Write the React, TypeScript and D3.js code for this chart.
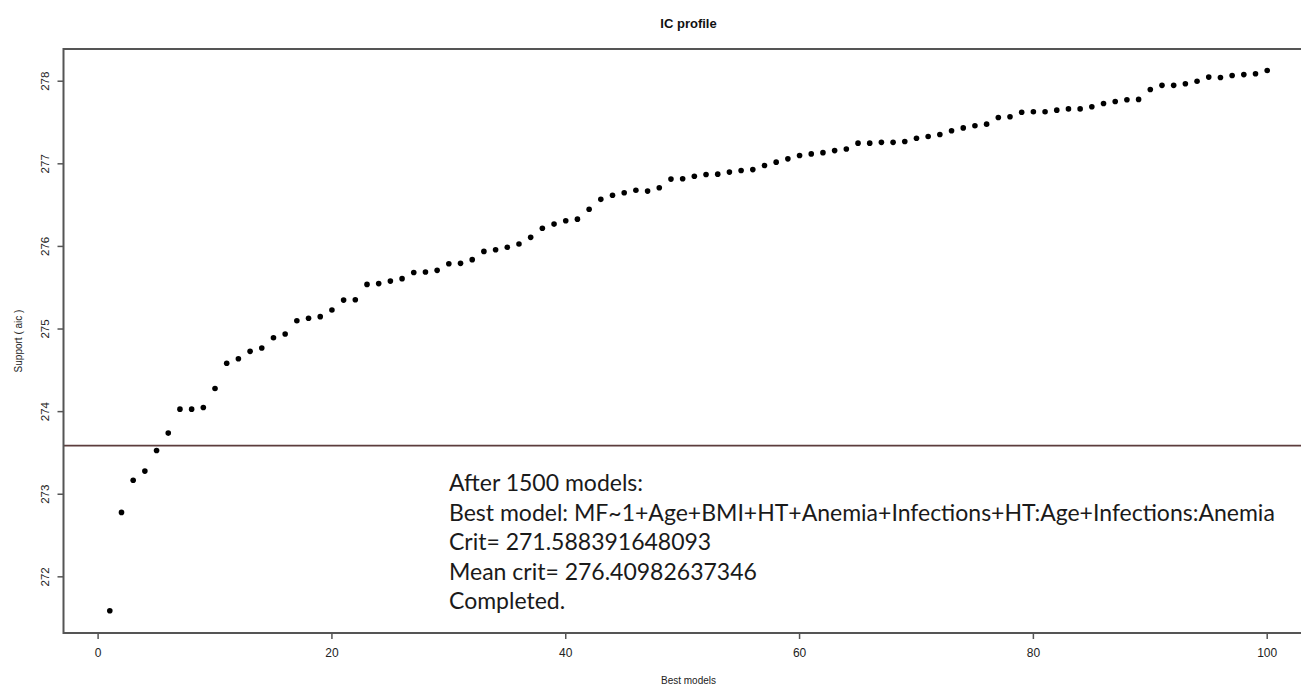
import React, { useLayoutEffect, useRef, useState } from "react";
import * as d3 from "d3";

const title = "IC profile";
const xLabel = "Best models";
const yLabel = "Support ( aic )";
const xTicks = [0, 20, 40, 60, 80, 100];
const yTicks = [272, 273, 274, 275, 276, 277, 278];
const bestCrit = 271.588391648093;
const critLine = bestCrit + 2;

const support = [
  271.59, 272.78, 273.17, 273.28, 273.53, 273.74, 274.03, 274.03, 274.05, 274.28,
  274.585, 274.64, 274.73, 274.77, 274.895, 274.94, 275.10, 275.13, 275.15, 275.23,
  275.35, 275.355, 275.54, 275.55, 275.58, 275.61, 275.685, 275.69, 275.71, 275.79,
  275.795, 275.84, 275.94, 275.96, 275.99, 276.03, 276.11, 276.22, 276.27, 276.31,
  276.33, 276.45, 276.57, 276.62, 276.65, 276.68, 276.67, 276.71, 276.815, 276.82,
  276.85, 276.87, 276.875, 276.90, 276.92, 276.93, 276.98, 277.02, 277.06, 277.10,
  277.12, 277.135, 277.16, 277.18, 277.25, 277.25, 277.26, 277.26, 277.27, 277.31,
  277.33, 277.355, 277.40, 277.435, 277.46, 277.48, 277.56, 277.57, 277.625, 277.63,
  277.63, 277.65, 277.665, 277.665, 277.69, 277.73, 277.755, 277.775, 277.78, 277.90,
  277.95, 277.95, 277.97, 278.00, 278.05, 278.045, 278.07, 278.08, 278.09, 278.13,
];

const noteLines = [
  "After 1500 models:",
  "Best model: MF~1+Age+BMI+HT+Anemia+Infections+HT:Age+Infections:Anemia",
  "Crit= 271.588391648093",
  "Mean crit= 276.40982637346",
  "Completed.",
];
const noteTargetWidth = 826;

const W = 1301;
const H = 685;

export default function App() {
  const x = d3.scaleLinear().domain([-2.96, 103.96]).range([63.5, 1313.5]);
  const y = d3.scaleLinear().domain([271.32, 278.39]).range([633, 49]);
  const [x0, x1] = x.range();
  const [yb, yt] = y.range();
  const axisFont = "'Liberation Sans', Arial, sans-serif";
  const narrowFont = "'Liberation Sans Narrow', 'Liberation Sans', Arial, sans-serif";

  const probeRef = useRef<SVGTextElement | null>(null);
  const [noteSize, setNoteSize] = useState(21);
  useLayoutEffect(() => {
    const el = probeRef.current;
    if (!el) return;
    const len = el.getComputedTextLength();
    if (len > 0) setNoteSize((20 * noteTargetWidth) / len);
  }, []);

  return (
    <svg
      width={W}
      height={H}
      style={{ position: "absolute", left: 0, top: 0, background: "#fff" }}
    >
      <text
        ref={probeRef}
        x={0}
        y={-100}
        fontFamily="Lato, 'Open Sans', sans-serif"
        fontSize={20}
        visibility="hidden"
      >
        {noteLines[1]}
      </text>

      <text
        x={(x0 + x1) / 2}
        y={27.5}
        textAnchor="middle"
        fontFamily={axisFont}
        fontWeight="bold"
        fontSize={13}
        fill="#111"
      >
        {title}
      </text>

      {/* crit + 2 reference line */}
      <line x1={x0} x2={x1} y1={y(critLine)} y2={y(critLine)} stroke="#5c3d3d" strokeWidth={1.6} />

      {/* frame */}
      <rect x={x0} y={yt} width={x1 - x0} height={yb - yt} fill="none" stroke="#555" strokeWidth={2} />

      {/* y axis */}
      {yTicks.map((t) => (
        <g key={"y" + t}>
          <line x1={x0 - 6} x2={x0} y1={y(t)} y2={y(t)} stroke="#555" strokeWidth={1.5} />
          <text
            transform={`translate(49,${y(t)}) rotate(-90)`}
            textAnchor="middle"
            fontFamily={axisFont}
            fontSize={11.5}
            fill="#222"
          >
            {t}
          </text>
        </g>
      ))}
      <text
        transform={`translate(22,${(yt + yb) / 2}) rotate(-90)`}
        textAnchor="middle"
        fontFamily={axisFont}
        fontSize={10}
        fill="#222"
      >
        {yLabel}
      </text>

      {/* x axis */}
      {xTicks.map((t) => (
        <g key={"x" + t}>
          <line x1={x(t)} x2={x(t)} y1={yb} y2={yb + 6} stroke="#555" strokeWidth={1.5} />
          <text
            x={x(t)}
            y={657}
            textAnchor="middle"
            fontFamily={narrowFont}
            fontSize={12}
            fill="#222"
          >
            {t}
          </text>
        </g>
      ))}
      <text
        x={(x0 + x1) / 2}
        y={684}
        textAnchor="middle"
        fontFamily={narrowFont}
        fontSize={10}
        fill="#222"
      >
        {xLabel}
      </text>

      {/* points */}
      {support.map((v, i) => (
        <circle key={i} cx={x(i + 1)} cy={y(v)} r={2.8} fill="#000" />
      ))}

      {/* annotation */}
      {noteLines.map((s, i) => (
        <text
          key={"n" + i}
          x={449}
          y={491 + i * 29.5}
          fontFamily="Lato, 'Open Sans', sans-serif"
          fontSize={noteSize}
          fill="#1a1a1a"
        >
          {s}
        </text>
      ))}
    </svg>
  );
}
